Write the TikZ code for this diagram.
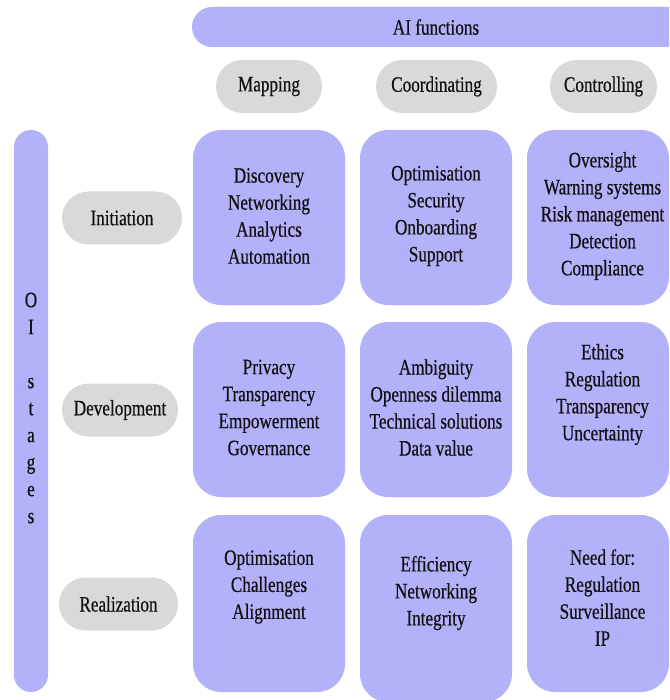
\documentclass[tikz,border=0pt]{standalone}
\usepackage{fontspec}
\setmainfont[FakeStretch=0.78,FakeBold=0.5]{Liberation Serif}
\definecolor{cellfill}{HTML}{B3B1FA}
\definecolor{pillfill}{HTML}{D9D9D9}
\definecolor{txt}{HTML}{111111}
\begin{document}
\begin{tikzpicture}[x=1pt,y=-1pt,
  every node/.append style={text=txt, font=\rmfamily\fontsize{22}{27}\selectfont, align=center, inner sep=0pt},
  cell/.style={fill=cellfill, rounded corners=28pt},
  pill/.style={fill=pillfill, rounded corners=26.5pt, minimum height=53pt},
  band/.style={fill=cellfill, rounded corners=20pt},
  vband/.style={fill=cellfill, rounded corners=17pt}
]
\useasboundingbox (0,0) rectangle (669,700);
\clip (0,0) rectangle (669,700);
\fill[white] (0,0) rectangle (669,700);

% AI functions band
\node[band, minimum width=508pt, minimum height=40pt] (aibar) at (446,27) {};
\node (aitext) at (436,27) {AI functions};

% column headers
\node[pill, minimum width=106pt] (mapping) at (269,86.5) {Mapping};
\node[pill, minimum width=121pt] (coord) at (436.5,86.5) {Coordinating};
\node[pill, minimum width=107pt] (control) at (603.5,86.5) {Controlling};

% OI stages band
\node[vband, minimum width=34pt, minimum height=562pt] (oibar) at (31,411) {};
\node (oitext) at (31,408) {O\\I\\ \\s\\t\\a\\g\\e\\s};

% row headers
\node[pill, minimum width=120pt] (init) at (122,218) {Initiation};
\node[pill, minimum width=116pt] (dev) at (120,410) {Development};
\node[pill, minimum width=119pt] (real) at (118.5,604) {Realization};

% grid cells
\node[cell, minimum width=152pt, minimum height=175pt] (c11) at (269,217.5) {};
\node[cell, minimum width=152pt, minimum height=175pt] (c12) at (436,217.5) {};
\node[cell, minimum width=142pt, minimum height=175pt] (c13) at (598,217.5) {};
\node[cell, minimum width=152pt, minimum height=175pt] (c21) at (269,409.5) {};
\node[cell, minimum width=152pt, minimum height=175pt] (c22) at (436,409.5) {};
\node[cell, minimum width=142pt, minimum height=175pt] (c23) at (598,409.5) {};
\node[cell, minimum width=152pt, minimum height=177pt] (c31) at (269,603.5) {};
\node[cell, minimum width=152pt, minimum height=187pt] (c32) at (436,608.5) {};
\node[cell, minimum width=142pt, minimum height=177pt] (c33) at (598,603.5) {};

% cell texts
\node (t11) at (269,216) {Discovery\\Networking\\Analytics\\Automation};
\node (t12) at (436,216) {Optimisation\\Security\\Onboarding\\Support};
\node (t13) at (602.5,216) {Oversight\\Warning systems\\Risk management\\Detection\\Compliance};
\node (t21) at (269,407.5) {Privacy\\Transparency\\Empowerment\\Governance};
\node (t22) at (436,407.5) {Ambiguity\\Openness dilemma\\Technical solutions\\Data value};
\node (t23) at (602.5,394.5) {Ethics\\Regulation\\Transparency\\Uncertainty};
\node (t31) at (269,587) {Optimisation\\Challenges\\Alignment};
\node (t32) at (436,593) {Efficiency\\Networking\\Integrity};
\node (t33) at (602.5,597.5) {Need for:\\Regulation\\Surveillance\\IP};
\end{tikzpicture}
\end{document}
